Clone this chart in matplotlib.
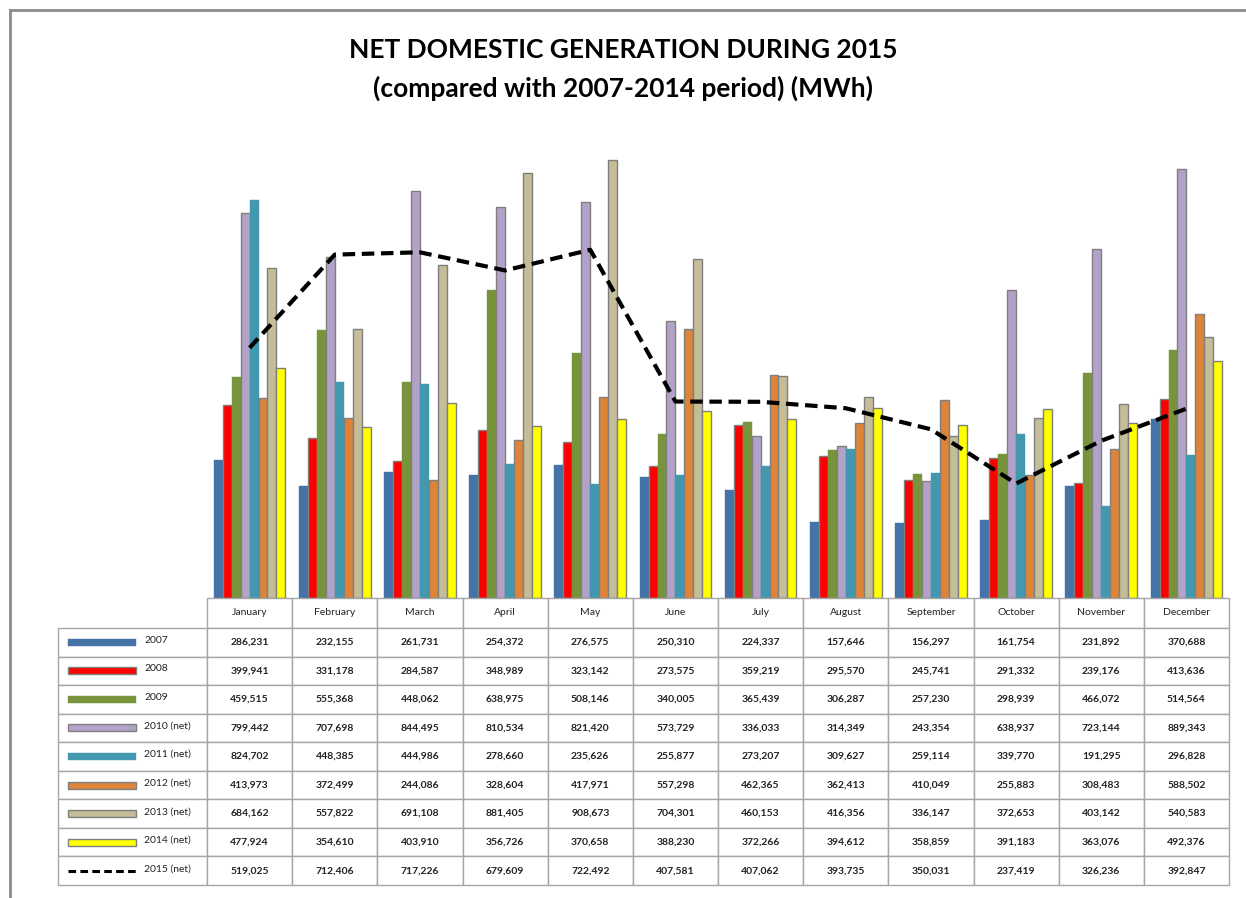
import numpy as np
import matplotlib
matplotlib.use('Agg')
import matplotlib.pyplot as plt
from matplotlib.patches import Rectangle
from matplotlib.lines import Line2D

plt.rcParams['font.family'] = ['Lato', 'DejaVu Sans']

months = ['January', 'February', 'March', 'April', 'May', 'June', 'July',
          'August', 'September', 'October', 'November', 'December']

series_names = ['2007', '2008', '2009', '2010 (net)', '2011 (net)',
                '2012 (net)', '2013 (net)', '2014 (net)']

v2007 = [286231, 232155, 261731, 254372, 276575, 250310, 224337, 157646, 156297, 161754, 231892, 370688]
v2008 = [399941, 331178, 284587, 348989, 323142, 273575, 359219, 295570, 245741, 291332, 239176, 413636]
v2009 = [459515, 555368, 448062, 638975, 508146, 340005, 365439, 306287, 257230, 298939, 466072, 514564]
v2010 = [799442, 707698, 844495, 810534, 821420, 573729, 336033, 314349, 243354, 638937, 723144, 889343]
v2011 = [824702, 448385, 444986, 278660, 235626, 255877, 273207, 309627, 259114, 339770, 191295, 296828]
v2012 = [413973, 372499, 244086, 328604, 417971, 557298, 462365, 362413, 410049, 255883, 308483, 588502]
v2013 = [684162, 557822, 691108, 881405, 908673, 704301, 460153, 416356, 336147, 372653, 403142, 540583]
v2014 = [477924, 354610, 403910, 356726, 370658, 388230, 372266, 394612, 358859, 391183, 363076, 492376]
v2015 = [519025, 712406, 717226, 679609, 722492, 407581, 407062, 393735, 350031, 237419, 326236, 392847]

bar_series = [v2007, v2008, v2009, v2010, v2011, v2012, v2013, v2014]
colors = ['#4572A7', '#FF0000', '#77933C', '#B3A2C7', '#4198AF',
          '#DD8439', '#C4BD97', '#FFFF00']
edged = [False, True, False, True, False, True, True, True]

W, H = 1246, 898
fig = plt.figure(figsize=(W / 100, H / 100), dpi=100)

# outer frame (top and left only)
fig.add_artist(Line2D([10 / W, 1], [1 - 10 / H, 1 - 10 / H], color='#8c8c8c', lw=2))
fig.add_artist(Line2D([10 / W, 10 / W], [0, 1 - 10 / H], color='#8c8c8c', lw=2))

fig.text(0.5, 1 - 50 / H, 'NET DOMESTIC GENERATION DURING 2015',
         ha='center', va='center', fontsize=19, fontweight='bold')
fig.text(0.5, 1 - 88 / H, '(compared with 2007-2014 period) (MWh)',
         ha='center', va='center', fontsize=19, fontweight='bold')

# chart area
ax = fig.add_axes([207 / W, 1 - 598 / H, 1022 / W, 482 / H])
x = np.arange(len(months))
bw = 0.105
for k, vals in enumerate(bar_series):
    ax.bar(x + (k - 3.5) * bw, vals, width=bw, color=colors[k],
           edgecolor='#7f7f7f' if edged[k] else colors[k],
           linewidth=1.0 if edged[k] else 0.3, zorder=2)
ax.plot(x, v2015, color='black', lw=3, linestyle=(0, (3, 1.6)), zorder=3)
ax.set_xlim(-0.5, len(months) - 0.5)
ax.set_ylim(0, 1000000)
ax.axis('off')

# data table
tx0, tx1, ty0, ty1 = 58, 1229, 598, 885
tax = fig.add_axes([tx0 / W, 1 - ty1 / H, (tx1 - tx0) / W, (ty1 - ty0) / H])
tax.axis('off')
tax.set_xlim(0, 1)
tax.set_ylim(0, 1)

all_series = bar_series + [v2015]
cell_text = [[''] + [f'{v:,}' for v in vals] for vals in all_series]
col_w = [149] + [85.1] * 12
tbl = tax.table(cellText=cell_text, colLabels=[''] + months,
                colWidths=[c / sum(col_w) for c in col_w],
                cellLoc='center', bbox=[0, 0, 1, 1])
tbl.auto_set_font_size(False)
header_h = 30
row_h = (ty1 - ty0 - header_h) / len(all_series)
for (r, c), cell in tbl.get_celld().items():
    cell.set_edgecolor('#a6a6a6')
    cell.set_linewidth(1.0)
    cell.set_height(header_h if r == 0 else row_h)
    cell.get_text().set_fontsize(7.5)
    cell.get_text().set_color('#222222')
    if r > 0 and c > 0:
        cell.get_text().set_fontweight('bold')
tbl[0, 0].visible_edges = ''

# legend keys in the first column
tw = tx1 - tx0
th = ty1 - ty0
for i, name in enumerate(series_names + ['2015 (net)']):
    yc = ty0 + header_h + row_h * (i + 0.5)
    ya = (ty1 - yc) / th
    if i < len(bar_series):
        tax.add_patch(Rectangle((10 / tw, ya - 3.5 / th), 68 / tw, 7 / th,
                                facecolor=colors[i],
                                edgecolor='#7f7f7f' if edged[i] else colors[i],
                                lw=1.0 if edged[i] else 0.3))
    else:
        tax.plot([10 / tw, 78 / tw], [ya, ya], color='black', lw=2.2,
                 linestyle=(0, (2.5, 1.4)))
    tax.text(86 / tw, ya + 2 / th, name, ha='left', va='center', fontsize=7.5,
             color='#222222')

fig.savefig('out.png', dpi=100)
